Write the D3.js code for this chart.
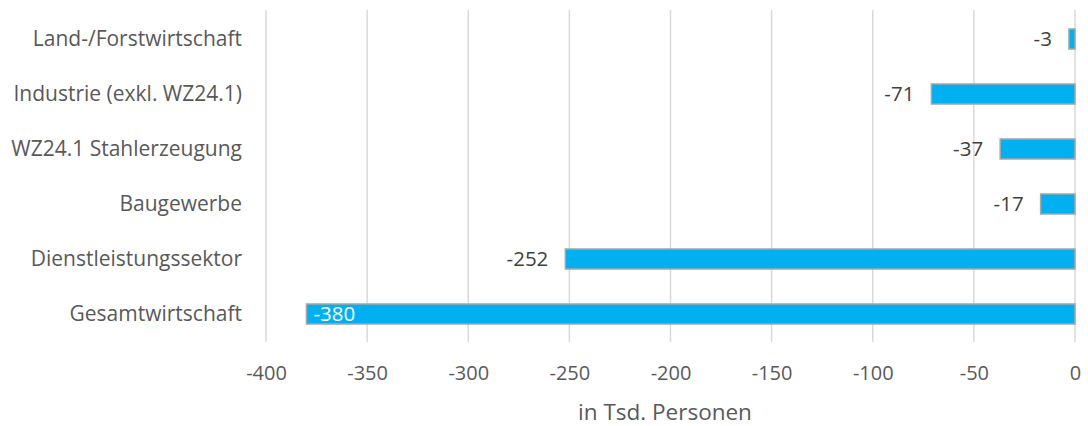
<!DOCTYPE html>
<html>
<head>
<meta charset="utf-8">
<script src="https://cdn.jsdelivr.net/npm/d3@7"></script>
<style>
  body { margin: 0; background: #fff; }
  svg text { font-family: "Open Sans", sans-serif; }
</style>
</head>
<body>
<div id="vis"></div>
<script>
// data
let categories = ['Land-/Forstwirtschaft', 'Industrie (exkl. WZ24.1)', 'WZ24.1 Stahlerzeugung',
                  'Baugewerbe', 'Dienstleistungssektor', 'Gesamtwirtschaft']
let values = [-3, -71, -37, -17, -252, -380]
let tickValues = [-400, -350, -300, -250, -200, -150, -100, -50, 0]
let axisTitle = 'in Tsd. Personen'

let svg = d3.select('#vis')
    .append('svg')
    .attr('width', 1088)
    .attr('height', 426)

let x = d3.scaleLinear().domain([-400, 0]).range([266, 1075])
let y = d3.scaleBand().domain(categories).range([11.5, 341.5]).paddingInner(0.636).paddingOuter(0.318)

// gridlines
svg.append('g')
    .selectAll('line')
    .data(tickValues)
    .join('line')
    .attr('x1', d => x(d)).attr('x2', d => x(d))
    .attr('y1', 10).attr('y2', 342)
    .attr('stroke', '#d9d9d9')
    .attr('stroke-width', 1.5)

// bars
svg.append('g')
    .selectAll('rect')
    .data(values)
    .join('rect')
    .attr('x', d => x(d))
    .attr('y', (d, i) => y(categories[i]))
    .attr('width', d => x(0) - x(d))
    .attr('height', y.bandwidth())
    .attr('fill', '#00b0f0')
    .attr('stroke', '#a6a6a6')
    .attr('stroke-width', 1.5)

// value labels
svg.append('g')
    .selectAll('text')
    .data(values)
    .join('text')
    .attr('x', d => d < -300 ? x(d) + 7 : x(d) - 17)
    .attr('y', (d, i) => y(categories[i]) + y.bandwidth() / 2)
    .attr('dy', '0.35em')
    .attr('text-anchor', d => d < -300 ? 'start' : 'end')
    .attr('fill', d => d < -300 ? '#ffffff' : '#404040')
    .attr('font-size', 20.5)
    .text(d => String(d))

// category labels
svg.append('g')
    .selectAll('text')
    .data(categories)
    .join('text')
    .attr('x', 242)
    .attr('y', d => y(d) + y.bandwidth() / 2)
    .attr('dy', '0.35em')
    .attr('text-anchor', 'end')
    .attr('fill', '#595959')
    .attr('font-size', 21)
    .text(d => d)

// x axis
let xAxis = svg.append('g')
    .attr('transform', 'translate(0,342)')
    .call(d3.axisBottom(x).tickValues(tickValues).tickFormat(d => String(d)).tickSize(0).tickPadding(24))
xAxis.select('.domain').remove()
xAxis.selectAll('text')
    .attr('font-size', 20)
    .attr('fill', '#595959')
    .style('font-family', '"Open Sans", sans-serif')

svg.append('text')
    .attr('x', 665)
    .attr('y', 412)
    .attr('dy', '0.35em')
    .attr('text-anchor', 'middle')
    .attr('fill', '#595959')
    .attr('font-size', 22.5)
    .text(axisTitle)
</script>
</body>
</html>
